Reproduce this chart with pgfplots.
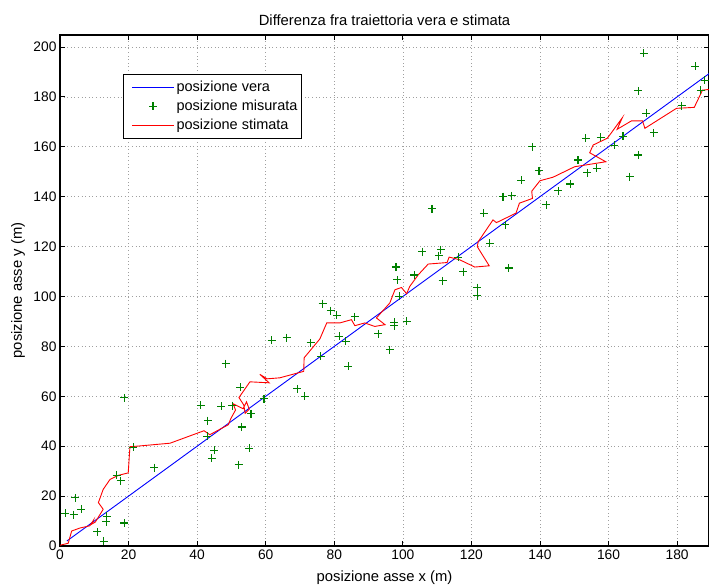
\documentclass[border=0pt]{standalone}
\usepackage{fontspec}
\setmainfont{Liberation Sans}
\usepackage{pgfplots}
\pgfplotsset{compat=1.18}
\definecolor{mgreen}{rgb}{0,0.5,0}
\definecolor{mblue}{rgb}{0,0,1}
\pgfplotsset{
  mylegline/.style={legend image code/.code={\path (0pt,0pt); \draw[color=#1, line width=1pt] (6pt,0pt) -- (48pt,0pt);}},
  mylegmark/.style={legend image code/.code={\path (0pt,0pt) (48pt,0pt); \draw[##1] plot coordinates {(27pt,0pt)};}},
}
\begin{document}
\begin{tikzpicture}
\begin{axis}[
  width=649pt, height=511pt, scale only axis,
  xmin=0, xmax=189.3, ymin=0, ymax=204.8,
  xtick={0,20,...,180}, ytick={0,20,...,200},
  /pgf/number format/assume math mode=true,
  ticklabel style={font=\fontsize{13.8}{15}\selectfont},
  tick align=inside, tick pos=both,
  major tick length=5pt,
  tick style={black, line width=0.8pt},
  axis line style={black, line width=1.2pt},
  grid=major,
  grid style={gray!75, dash pattern=on 0.8pt off 2.8pt, line width=0.6pt},
  title={Differenza fra traiettoria vera e stimata},
  title style={at={(0.5,1)}, anchor=base, yshift=3.5pt, font=\fontsize{14.8}{16}\selectfont},
  xlabel={posizione asse x (m)},
  ylabel={posizione asse y (m)},
  every axis x label/.style={at={(axis description cs:0.5,0)}, anchor=center, yshift=-32pt, font=\fontsize{14.8}{16}\selectfont},
  every axis y label/.style={at={(axis description cs:-0.0647,0.5)}, anchor=center, rotate=90, font=\fontsize{14.8}{16}\selectfont},
  legend style={at={(0.097,0.924)}, anchor=north west, draw=black, line width=1pt, fill=white,
    font=\fontsize{14.5}{16}\selectfont, inner xsep=2pt, inner ysep=5pt, row sep=3pt,
    cells={anchor=west}},
  legend cell align=left,
]
\addplot[draw=mblue, line width=0.9pt, mylegline=mblue]
  coordinates {(2,2) (190,190)};
\addlegendentry{posizione vera}

\addplot[only marks, mark=+, mark size=4pt, color=mgreen, draw=mgreen, line width=1.1pt, mylegmark]
  coordinates {
(1.5,13.2) (4.0,12.6) (4.5,19.3) (6.2,14.8) (10.9,5.7) (12.7,1.9) (13.6,12.0) (13.5,9.8)
(16.5,28.3) (17.7,26.2) (18.8,9.2) (18.7,59.4) (21.4,39.6) (27.5,31.4) (41.1,56.4) (43.1,50.2)
(42.9,43.9) (45.0,38.4) (44.3,35.1) (47.0,56.0) (50.2,56.3) (52.1,32.5) (52.6,63.6) (53.0,47.7)
(55.2,39.1) (55.7,53.0) (48.3,73.1) (59.5,59.1) (61.7,82.4) (66.1,83.5) (69.2,63.0) (71.4,60.0)
(73.1,81.4) (76.1,76.0) (76.6,97.1) (79.0,94.3) (80.7,92.4) (86.0,91.8) (81.4,84.0) (83.4,82.0)
(84.1,72.0) (92.8,85.1) (96.2,78.7) (97.5,89.6) (97.5,88.3) (101.1,90.0) (98.0,111.8) (98.4,106.7)
(98.9,100.0) (103.3,108.6) (105.7,118.0) (108.5,135.1) (111.1,118.7) (110.5,116.3) (111.6,106.3) (116.2,115.8)
(117.6,110.0) (121.7,103.6) (121.7,100.3) (123.6,133.4) (125.4,121.4) (129.9,128.7) (130.9,111.4) (129.2,140.0)
(131.7,140.3) (134.6,146.5) (139.7,150.4) (141.9,136.7) (145.4,142.3) (137.8,160.0) (170.3,197.4) (185.3,192.2)
(188.0,186.7) (186.9,182.7) (168.7,182.4) (181.3,176.4) (171.0,173.4) (173.2,165.6) (164.2,164.3) (161.7,160.6)
(157.7,163.8) (153.3,163.4) (168.7,156.7) (166.2,148.0) (151.1,154.7) (153.8,149.6) (156.5,151.4) (148.9,145.1)
  };
\addlegendentry{posizione misurata}

\addplot[draw=red, line width=0.9pt, mylegline=red]
  coordinates {
(0,0.3) (2.4,1.1) (3.4,6) (5.8,7.2) (8.7,8.1) (9.7,10.2) (9.3,8.8) (10.3,9.6) (12.6,14.7) (11.2,17.4)
(12.6,22.7) (14.6,26.7) (17,28.3) (19.9,29.3) (20.4,39.8) (22.4,40) (32.1,41.2) (42,46.2)
(43.7,44.6) (49.1,48.6) (49.8,51) (51.2,54.5) (50.5,57) (53.4,55) (54.4,57.8) (55.2,54.8)
(54,53.2) (53.6,56.5) (52.2,59.5) (55.4,65.8) (61,65.4) (58.3,68.8) (60.4,67) (64.1,67.4)
(71.1,70) (71.2,75.4) (75.8,83) (77.8,89.4) (81.6,89.4) (85,90.7) (86,88.3) (88.9,89.4)
(91.8,88) (94.8,88.7) (92.3,91.4) (96.2,97.4) (97.7,102.7) (99.6,103.6) (101.1,101.1) (102,104)
(104.5,108.7) (107.4,113) (112.9,113.6) (113.5,115.8) (116.6,114.7) (121,111.8) (125.2,112.3) (121.7,120)
(122,122) (126.3,130.7) (127.3,129.6) (133,133.4) (134,137.4) (137.8,139.3) (137.6,142.2) (140,146.4)
(143.8,147.8) (150.1,152) (159.2,154) (154.5,157.6) (155.5,160.7) (159.6,163.4) (160.5,165) (164,171.6)
(162.5,167) (166.7,170.4) (169.9,170.4) (170.6,167.4) (179.8,175.4) (185,175.8) (187.4,182.7) (189.5,183)
  };
\addlegendentry{posizione stimata}

\coordinate (sw) at (rel axis cs:0,0);
\coordinate (ne) at (rel axis cs:1,1);
\end{axis}
\pgfresetboundingbox
\path ([xshift=-60pt,yshift=-41pt]sw) rectangle ([yshift=35pt]ne);
\end{tikzpicture}
\end{document}
